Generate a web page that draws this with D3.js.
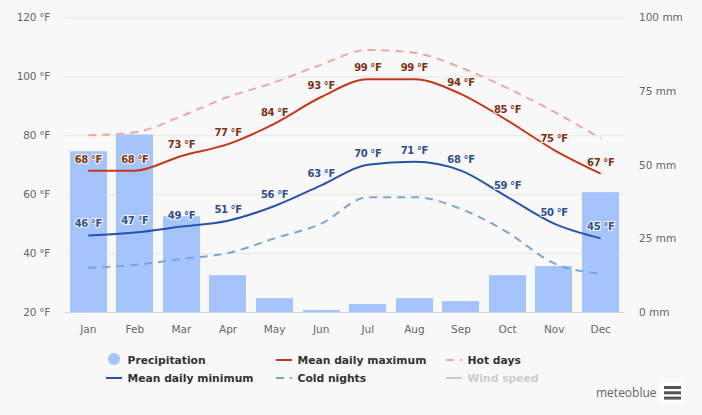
<!DOCTYPE html>
<html>
<head>
<meta charset="utf-8">
<script src="https://cdn.jsdelivr.net/npm/d3@7"></script>
<style>
  html, body { margin: 0; padding: 0; background: #f8f8f8; }
  svg { display: block; }
  text { font-family: "DejaVu Sans", sans-serif; }
</style>
</head>
<body>
<div id="chart"></div>
<script>
// chart values
var months = ["Jan", "Feb", "Mar", "Apr", "May", "Jun", "Jul", "Aug", "Sep", "Oct", "Nov", "Dec"];
var precipitation = [54.6, 60.3, 32.5, 12.5, 4.7, 0.7, 2.7, 4.7, 3.7, 12.5, 15.6, 40.7];
var meanMax = [68, 68, 73, 77, 84, 93, 99, 99, 94, 85, 75, 67];
var meanMin = [46, 47, 49, 51, 56, 63, 70, 71, 68, 59, 50, 45];
var hotDays = [80, 81, 86.5, 93, 98, 104, 109, 108, 103, 96, 88, 79];
var coldNights = [35, 36, 38, 40, 45, 50, 59, 59, 55, 47, 36.5, 33];
var tempTicks = [20, 40, 60, 80, 100, 120];
var mmTicks = [0, 25, 50, 75, 100];

// set graph dimensions
var svgWidth = 702;
var svgHeight = 415;
var margin = { top: 17.5, right: 78, bottom: 103, left: 65 };
var width = svgWidth - margin.left - margin.right;
var height = svgHeight - margin.top - margin.bottom;

var colors = {
  precip: "#a5c4fb",
  max: "#c2391b",
  min: "#2a52a8",
  hot: "#eea99d",
  cold: "#7aa6d2",
  wind: "#cccccc"
};

var svg = d3.select("#chart")
  .append("svg")
  .attr("width", svgWidth)
  .attr("height", svgHeight);

var chartGroup = svg.append("g")
  .attr("transform", `translate(${margin.left}, ${margin.top})`);

// scale functions
var xScale = d3.scaleBand().domain(months).range([0, width]).paddingInner(0.2).paddingOuter(0.1);
var yTemp = d3.scaleLinear().domain([20, 120]).range([height, 0]);
var yMm = d3.scaleLinear().domain([0, 100]).range([height, 0]);
var xMid = m => xScale(m) + xScale.bandwidth() / 2;

// gridlines + left axis
var leftAxis = chartGroup.append("g")
  .call(d3.axisLeft(yTemp).tickValues(tempTicks).tickSize(-width).tickPadding(15).tickFormat(d => d + " °F"));
leftAxis.select(".domain").remove();
leftAxis.selectAll("line").attr("stroke", "#e6e6e6");
leftAxis.selectAll("text")
  .attr("fill", "#666")
  .style("font-size", "10.5px")
  .style("letter-spacing", "-0.25px");

var rightAxis = chartGroup.append("g")
  .attr("transform", `translate(${width}, 0)`)
  .call(d3.axisRight(yMm).tickValues(mmTicks).tickSize(0).tickPadding(15).tickFormat(d => d + " mm"));
rightAxis.select(".domain").remove();
rightAxis.selectAll("text").attr("fill", "#666").style("font-size", "10.5px");

// bars
chartGroup.selectAll("rect.bar")
  .data(precipitation)
  .enter()
  .append("rect")
  .attr("class", "bar")
  .attr("x", (d, i) => Math.round(xScale(months[i])))
  .attr("y", d => yMm(d))
  .attr("width", Math.round(xScale.bandwidth()))
  .attr("height", d => height - yMm(d))
  .attr("fill", colors.precip);

// bottom axis
var bottomAxis = chartGroup.append("g")
  .attr("transform", `translate(0, ${height})`)
  .call(d3.axisBottom(xScale).tickSize(0).tickPadding(14));
bottomAxis.select(".domain").attr("stroke", "#ccd6eb");
bottomAxis.selectAll("text").attr("fill", "#666").style("font-size", "10.5px");

// lines
var line = d3.line()
  .x((d, i) => xMid(months[i]))
  .y(d => yTemp(d))
  .curve(d3.curveMonotoneX);

function addLine(values, color, dash) {
  chartGroup.append("path")
    .attr("d", line(values))
    .attr("fill", "none")
    .attr("stroke", color)
    .attr("stroke-width", 2)
    .attr("stroke-dasharray", dash);
}

addLine(hotDays, colors.hot, "8,6");
addLine(coldNights, colors.cold, "8,6");
addLine(meanMax, colors.max, null);
addLine(meanMin, colors.min, null);

// value labels
function addLabels(values, color) {
  chartGroup.selectAll(null)
    .data(values)
    .enter()
    .append("text")
    .attr("x", (d, i) => xMid(months[i]))
    .attr("y", d => yTemp(d) - 8)
    .attr("text-anchor", "middle")
    .attr("fill", color)
    .attr("stroke", "#f8f8f8")
    .attr("stroke-width", 2)
    .attr("paint-order", "stroke")
    .style("font-size", "10px")
    .style("font-weight", "bold")
    .style("letter-spacing", "-0.4px")
    .text(d => d + " °F");
}

addLabels(meanMax, "#7c3315");
addLabels(meanMin, "#2f4f8f");

// legend
var legendItems = [
  { name: "Precipitation", x: 106, y: 360, type: "circle", color: colors.precip },
  { name: "Mean daily maximum", x: 276, y: 360, type: "line", color: colors.max },
  { name: "Hot days", x: 446, y: 360, type: "dash", color: colors.hot },
  { name: "Mean daily minimum", x: 106, y: 378, type: "line", color: colors.min },
  { name: "Cold nights", x: 276, y: 378, type: "dash", color: colors.cold },
  { name: "Wind speed", x: 446, y: 378, type: "line", color: colors.wind, off: true }
];

var legend = svg.selectAll("g.legend")
  .data(legendItems)
  .enter()
  .append("g")
  .attr("class", "legend")
  .attr("transform", d => `translate(${d.x}, ${d.y})`);

legend.filter(d => d.type == "circle").append("circle")
  .attr("cx", 8)
  .attr("cy", -1)
  .attr("r", 6)
  .attr("fill", d => d.color);

legend.filter(d => d.type != "circle").append("line")
  .attr("x2", 16)
  .attr("stroke", d => d.color)
  .attr("stroke-width", 2)
  .attr("stroke-dasharray", d => d.type == "dash" ? "8,6" : null);

legend.append("text")
  .attr("x", 21.5)
  .attr("y", 4)
  .attr("fill", d => d.off ? "#cccccc" : "#333333")
  .style("font-size", "10.75px")
  .style("font-weight", "bold")
  .text(d => d.name);

// credit and menu button
svg.append("text")
  .attr("x", 596)
  .attr("y", 397)
  .attr("fill", "#666")
  .style("font-family", "'Open Sans', sans-serif")
  .style("font-size", "12px")
  .text("meteoblue");

svg.append("rect")
  .attr("x", 659)
  .attr("y", 382)
  .attr("width", 25)
  .attr("height", 21)
  .attr("rx", 2)
  .attr("fill", "#ffffff");

svg.selectAll("rect.menu")
  .data([0, 1, 2])
  .enter()
  .append("rect")
  .attr("class", "menu")
  .attr("x", 664)
  .attr("y", d => 386 + d * 5.3)
  .attr("width", 17)
  .attr("height", 3)
  .attr("fill", "#555");
</script>
</body>
</html>
